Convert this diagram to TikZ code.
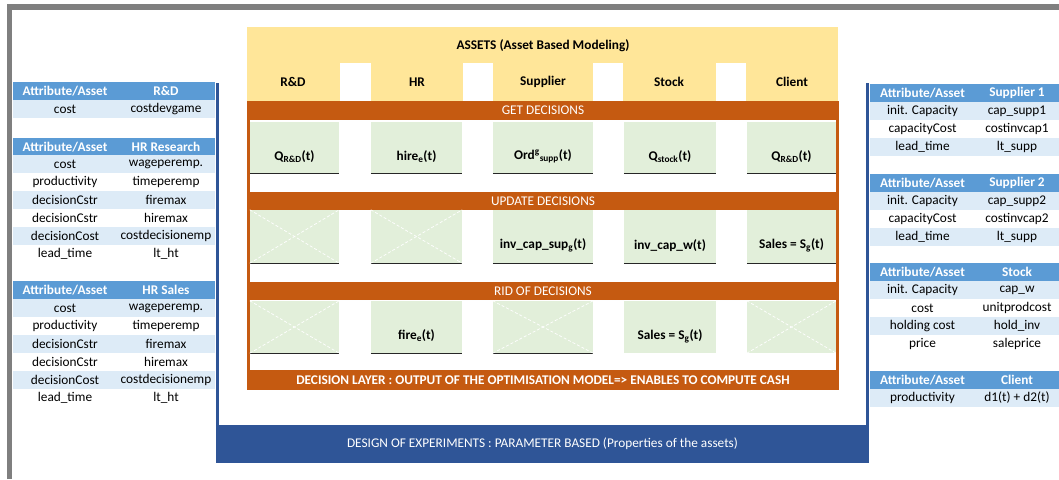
\documentclass[tikz,border=0pt]{standalone}
\usepackage{fontspec}
\setmainfont{Carlito}
\usetikzlibrary{fit}
\definecolor{hdrblue}{HTML}{5B9BD5}
\definecolor{rowblue}{HTML}{DDEBF7}
\definecolor{assetyellow}{HTML}{FFE699}
\definecolor{layerorange}{HTML}{C55A11}
\definecolor{decgreen}{HTML}{E2EFDA}
\definecolor{doeblue}{HTML}{2F5597}
\definecolor{framegray}{HTML}{7F7F7F}
\begin{document}
\begin{tikzpicture}[x=1pt,y=-1pt,
	every node/.style={font=\fontsize{13.3}{15}\selectfont},
	bold/.style={font=\fontsize{13.3}{15}\selectfont\bfseries},
	cell/.style={minimum height=18pt, inner sep=0pt},
	hdr/.style={cell, fill=hdrblue, text=white, bold},
	rowb/.style={cell, fill=rowblue},
	roww/.style={cell, fill=white},
	lcola/.style={minimum width=104pt},
	lcolb/.style={minimum width=98pt},
	rcola/.style={minimum width=105pt},
	rcolb/.style={minimum width=84pt},
	gbox/.style={fill=decgreen, inner sep=0pt},
	band/.style={text=white},
	dec/.style={bold},
	uline/.style={line width=1.3pt, black!85},
	xline/.style={white, densely dashed, line width=0.7pt}]
				\useasboundingbox (0,0) rectangle (1059,479);
					%Frame
				\draw[framegray, line width=5.5pt] (9.5,479) -- (9.5,7) -- (1059,7);
					%Left tables
				\node[hdr, lcola] (rdha) at (65,91) {Attribute/Asset};
				\node[hdr, lcolb] (rdhb) at (166,91) {R\&D};
				\node[rowb, lcola] (rd1a) at (65,109) {cost};
				\node[rowb, lcolb] (rd1b) at (166,109) {costdevgame};
				\node[hdr, lcola] (hrrha) at (65,147) {Attribute/Asset};
				\node[hdr, lcolb] (hrrhb) at (166,147) {HR Research};
				\foreach \a/\b/\s [count=\i] in {cost/wageperemp./rowb, productivity/timeperemp/roww, decisionCstr/firemax/rowb, decisionCstr/hiremax/roww, decisionCost/costdecisionemp/rowb, lead\_time/lt\_ht/roww}{
					\node[\s, lcola] (hrr\i a) at (65,146+18*\i) {\a};
					\node[\s, lcolb] (hrr\i b) at (166,146+18*\i) {\b};
				}
				\node[hdr, lcola] (hrsha) at (65,290) {Attribute/Asset};
				\node[hdr, lcolb] (hrshb) at (166,290) {HR Sales};
				\foreach \a/\b/\s [count=\i] in {cost/wageperemp./rowb, productivity/timeperemp/roww, decisionCstr/firemax/rowb, decisionCstr/hiremax/roww, decisionCost/costdecisionemp/rowb, lead\_time/lt\_ht/roww}{
					\node[\s, lcola] (hrs\i a) at (65,290+18*\i) {\a};
					\node[\s, lcolb] (hrs\i b) at (166,290+18*\i) {\b};
				}
					%Right tables
				\node[hdr, rcola] (s1ha) at (922.5,93) {Attribute/Asset};
				\node[hdr, rcolb] (s1hb) at (1017,93) {Supplier 1};
				\foreach \a/\b/\s [count=\i] in {init. Capacity/cap\_supp1/rowb, capacityCost/costinvcap1/roww, lead\_time/lt\_supp/rowb}{
					\node[\s, rcola] (s1\i a) at (922.5,93+18*\i) {\a};
					\node[\s, rcolb] (s1\i b) at (1017,93+18*\i) {\b};
				}
				\node[hdr, rcola] (s2ha) at (922.5,183) {Attribute/Asset};
				\node[hdr, rcolb] (s2hb) at (1017,183) {Supplier 2};
				\foreach \a/\b/\s [count=\i] in {init. Capacity/cap\_supp2/rowb, capacityCost/costinvcap2/roww, lead\_time/lt\_supp/rowb}{
					\node[\s, rcola] (s2\i a) at (922.5,183+18*\i) {\a};
					\node[\s, rcolb] (s2\i b) at (1017,183+18*\i) {\b};
				}
				\node[hdr, rcola] (stha) at (922.5,272) {Attribute/Asset};
				\node[hdr, rcolb] (sthb) at (1017,272) {Stock};
				\foreach \a/\b/\s [count=\i] in {init. Capacity/cap\_w/rowb, cost/unitprodcost/roww, holding cost/hold\_inv/rowb, price/saleprice/roww}{
					\node[\s, rcola] (st\i a) at (922.5,272+18*\i) {\a};
					\node[\s, rcolb] (st\i b) at (1017,272+18*\i) {\b};
				}
				\node[hdr, rcola] (clha) at (922.5,380) {Attribute/Asset};
				\node[hdr, rcolb] (clhb) at (1017,380) {Client};
				\node[rowb, rcola] (cl1a) at (922.5,398) {productivity};
				\node[rowb, rcolb] (cl1b) at (1017,398) {d1(t) + d2(t)};
					%Design of experiments
				\node[fill=doeblue, text=white, minimum width=653pt, minimum height=38pt, inner sep=0pt] (doe) at (542.5,444) {DESIGN OF EXPERIMENTS : PARAMETER BASED (Properties of the assets)};
				\draw[doeblue, line width=3pt] (217.5,83) -- (217.5,426); %Left side
				\draw[doeblue, line width=3pt] (867.5,83) -- (867.5,426); %Right side
					%Assets
				\node[fill=assetyellow, fit={(247,27) (838,101)}, inner sep=0pt] (assets) {};
				\foreach \xl/\xr in {340/371, 463/493, 593/623, 716/746}
					\fill[white] (\xl,63) rectangle (\xr,101);
				\node[bold] (assetsttl) at (543,46) {ASSETS (Asset Based Modeling)};
				\foreach \n/\x/\t in {rd/293/R\&D, hr/417/HR, supp/543/Supplier, stock/669/Stock, client/792/Client}
					\node[bold] (\n) at (\x,82) {\t};
					%Decision layer
				\node[fill=layerorange, fit={(247,101) (839,390)}, inner sep=0pt] (layer) {};
				\foreach \yt/\yb in {120/192, 210/282, 300/370}
					\fill[white] (250,\yt) rectangle (836,\yb);
				\node[band] (getdec) at (543,110.5) {GET DECISIONS};
				\node[band] (upddec) at (543,201) {UPDATE DECISIONS};
				\node[band] (riddec) at (543,291) {RID OF DECISIONS};
				\node[band, bold] (layerttl) at (543,380) {DECISION LAYER : OUTPUT OF THE OPTIMISATION MODEL=> ENABLES TO COMPUTE CASH};
				\foreach \rw/\yt/\yb in {1/122/173, 2/210/263, 3/301/353}
					\foreach \cl/\xl/\xr in {1/250/339, 2/371/462, 3/493/593, 4/624/716, 5/747/836}
						\node[gbox, fit={(\xl,\yt) (\xr,\yb)}] (g\rw\cl) {};
				\foreach \n in {11,12,13,14,15,21,22,23,24,25,31,32,33}
					\draw[uline] (g\n.south west) -- (g\n.south east);
				\foreach \n in {21,22,31,33,35}{
					\draw[xline] (g\n.north west) -- (g\n.south east);
					\draw[xline] (g\n.south west) -- (g\n.north east);
				}
				\node[dec] (d11) at ([yshift=-9pt]g11.center) {Q\textsubscript{R\&D}(t)};
				\node[dec] (d12) at ([yshift=-9pt]g12.center) {hire\textsubscript{e}(t)};
				\node[dec] (d13) at ([yshift=-9pt]g13.center) {Ord\textsuperscript{g}\textsubscript{supp}(t)};
				\node[dec] (d14) at ([yshift=-9pt]g14.center) {Q\textsubscript{stock}(t)};
				\node[dec] (d15) at ([yshift=-9pt]g15.center) {Q\textsubscript{R\&D}(t)};
				\node[dec] (d23) at ([yshift=-9pt]g23.center) {inv\_cap\_sup\textsubscript{g}(t)};
				\node[dec] (d24) at ([yshift=-9pt]g24.center) {inv\_cap\_w(t)};
				\node[dec] (d25) at ([yshift=-9pt]g25.center) {Sales = S\textsubscript{g}(t)};
				\node[dec] (d32) at ([yshift=-9pt]g32.center) {fire\textsubscript{e}(t)};
				\node[dec] (d34) at ([yshift=-9pt]g34.center) {Sales = S\textsubscript{g}(t)};
\end{tikzpicture}
\end{document}
